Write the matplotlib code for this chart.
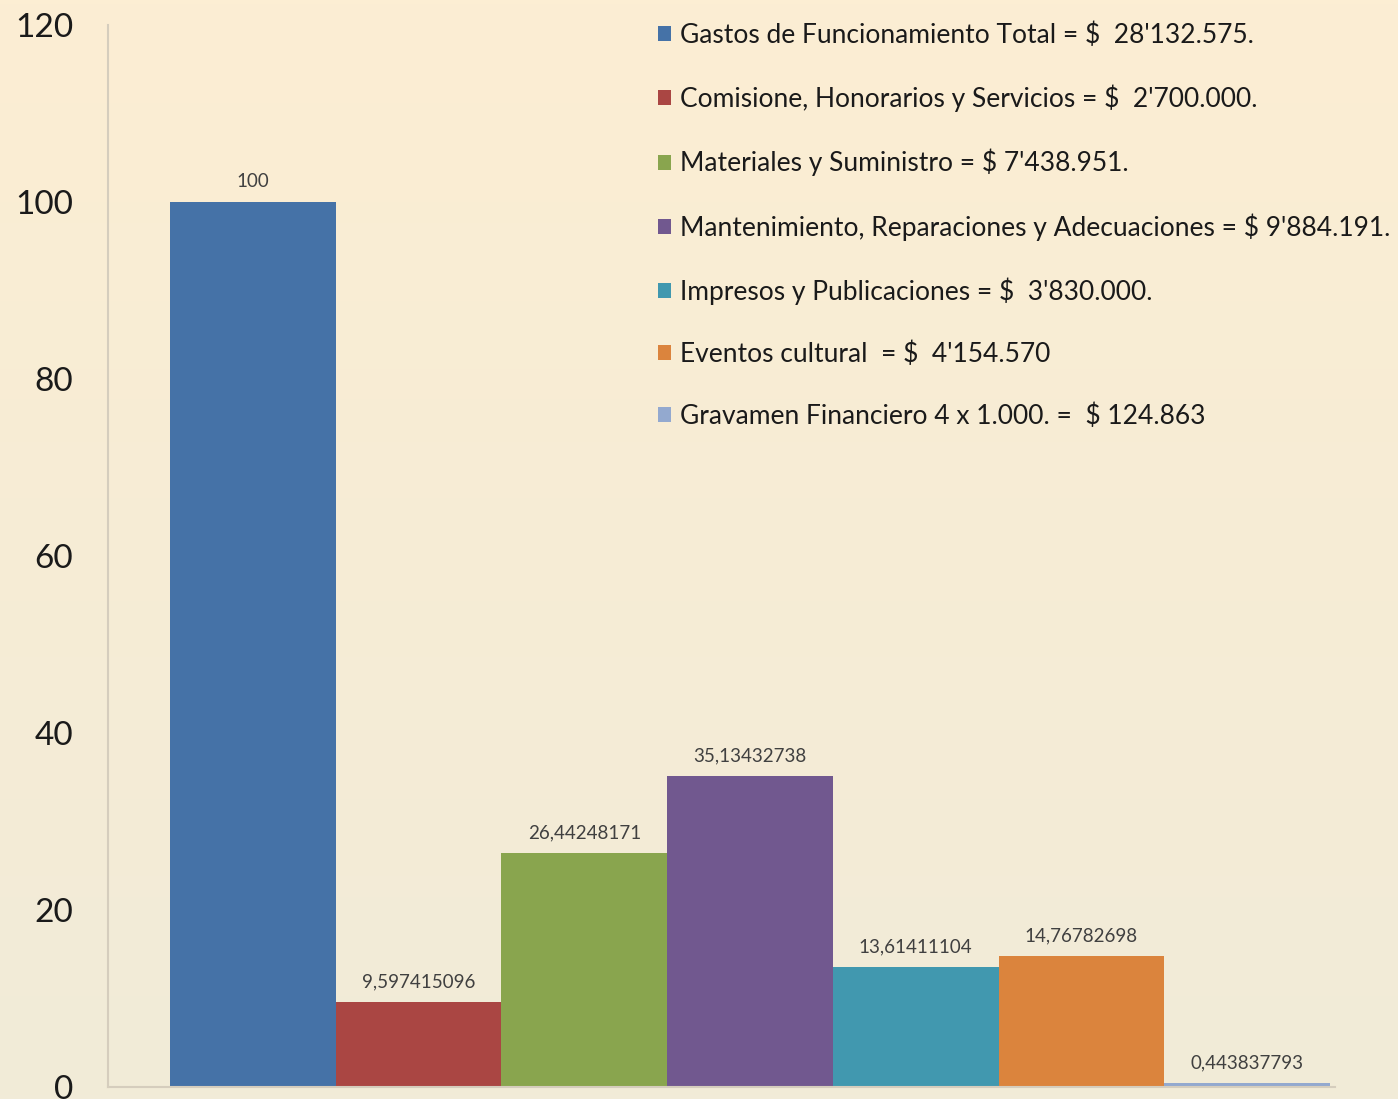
import numpy as np
import matplotlib.pyplot as plt
from matplotlib.colors import LinearSegmentedColormap

# datos
series = ["Gastos de Funcionamiento Total = $  28'132.575.",
          "Comisione, Honorarios y Servicios = $  2'700.000.",
          "Materiales y Suministro = $ 7'438.951.",
          "Mantenimiento, Reparaciones y Adecuaciones = $ 9'884.191.",
          "Impresos y Publicaciones = $  3'830.000.",
          "Eventos cultural  = $  4'154.570",
          "Gravamen Financiero 4 x 1.000. =  $ 124.863"]
values = [100, 9.597415096, 26.44248171, 35.13432738, 13.61411104, 14.76782698, 0.443837793]
value_labels = ["100", "9,597415096", "26,44248171", "35,13432738",
                "13,61411104", "14,76782698", "0,443837793"]
colors = ['#4572A7', '#AA4643', '#89A54E', '#71588F', '#4198AF', '#DB843D', '#93A9CF']
yticks = [0, 20, 40, 60, 80, 100, 120]

plt.rcParams['font.family'] = ['Lato', 'DejaVu Sans']

fig = plt.figure(figsize=(13.98, 10.99), dpi=100)

# fondo degradado
bg = fig.add_axes([0, 0, 1, 1], zorder=-10)
cmap = LinearSegmentedColormap.from_list('bg', ['#F1EBD8', '#FCEED3'])
bg.imshow(np.linspace(0, 1, 256).reshape(-1, 1), aspect='auto', cmap=cmap,
          origin='lower', extent=[0, 1, 0, 1])
bg.axis('off')

ax = fig.add_axes([108/1398, 12/1099, 1227/1398, 1062/1099])
ax.patch.set_alpha(0)

for i in range(len(values)):
    ax.bar(i, values[i], width=1, align='edge', color=colors[i], label=series[i])
    ax.text(i + 0.5, values[i] + 1.3, value_labels[i], ha='center', va='bottom',
            fontsize=13.5, color='#404040')

ax.set_xlim(-0.374, 7.03)
ax.set_ylim(0, 120)
ax.set_yticks(yticks)
ax.set_yticklabels([str(t) for t in yticks], fontsize=24, color='#1a1a1a')
ax.set_xticks([])
ax.tick_params(axis='y', length=0, pad=25)
for s in ['top', 'right']:
    ax.spines[s].set_visible(False)
for s in ['left', 'bottom']:
    ax.spines[s].set_color('#D5CDBD')
    ax.spines[s].set_linewidth(1.5)

leg = ax.legend(loc='upper left', bbox_to_anchor=(647/1398, 1 - 12/1099),
                bbox_transform=fig.transFigure, frameon=False, fontsize=19,
                handlelength=0.5, handleheight=0.5, handletextpad=0.35,
                labelspacing=1.39, borderaxespad=0)
for t in leg.get_texts():
    t.set_color('#1a1a1a')

fig.savefig('out.png', dpi=100)
